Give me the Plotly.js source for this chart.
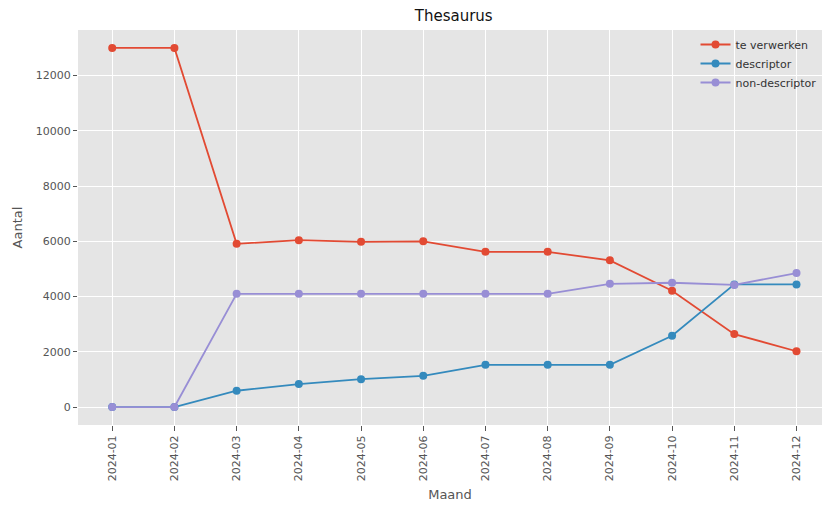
<!DOCTYPE html>
<html>
<head>
<meta charset="utf-8">
<script src="https://cdn.plot.ly/plotly-3.0.1.min.js"></script>
<style>html,body{margin:0;padding:0;background:#fff;}#chart{width:822px;height:506px;}</style>
</head>
<body>
<div id="chart"></div>
<script>
var months = ["2024-01","2024-02","2024-03","2024-04","2024-05","2024-06","2024-07","2024-08","2024-09","2024-10","2024-11","2024-12"];
var teVerwerken = [13000, 13000, 5910, 6040, 5980, 6000, 5620, 5620, 5310, 4210, 2640, 2020];
var descriptor = [0, 0, 590, 830, 1010, 1130, 1530, 1530, 1530, 2580, 4440, 4440];
var nonDescriptor = [0, 0, 4100, 4100, 4100, 4100, 4100, 4100, 4460, 4500, 4420, 4850];
var yTicks = [0, 2000, 4000, 6000, 8000, 10000, 12000];

function tr(name, y, color) {
  return {
    type: 'scatter', mode: 'lines+markers', name: name,
    x: months, y: y,
    line: {color: color, width: 1.8},
    marker: {color: color, size: 8}
  };
}
var data = [
  tr('te verwerken', teVerwerken, '#E24A33'),
  tr('descriptor', descriptor, '#348ABD'),
  tr('non-descriptor', nonDescriptor, '#988ED5')
];
var layout = {
  width: 822, height: 506,
  paper_bgcolor: '#ffffff', plot_bgcolor: '#E5E5E5',
  margin: {l: 78, r: 0, t: 30, b: 81},
  font: {family: 'DejaVu Sans, sans-serif', color: '#555555', size: 11},
  title: {text: 'Thesaurus', x: 0.552, xanchor: 'center', y: 0.969, yanchor: 'middle', font: {size: 15, color: '#111111'}},
  showlegend: true,
  legend: {x: 0.83, y: 1.0, xanchor: 'left', yanchor: 'top', bgcolor: 'rgba(0,0,0,0)', font: {size: 11, color: '#333333'}, tracegroupgap: 0, itemwidth: 30},
  xaxis: {
    type: 'category', range: [-0.55, 11.41],
    showgrid: true, gridcolor: '#ffffff', gridwidth: 1,
    zeroline: false, showline: false,
    ticks: 'outside', ticklen: 5, tickcolor: '#555555',
    tickangle: -90, tickfont: {size: 11, color: '#555555'},
    title: {text: 'Maand', font: {size: 13, color: '#555555'}, standoff: 9}
  },
  yaxis: {
    range: [-650, 13650],
    tickvals: yTicks, ticktext: yTicks.map(String),
    showgrid: true, gridcolor: '#ffffff', gridwidth: 1,
    zeroline: false, showline: false,
    ticks: 'outside', ticklen: 4, tickcolor: '#555555',
    tickfont: {size: 11, color: '#555555'},
    title: {text: 'Aantal', font: {size: 13, color: '#555555'}, standoff: 10}
  }
};
Plotly.newPlot('chart', data, layout, {displayModeBar: false, staticPlot: true});
</script>
</body>
</html>
